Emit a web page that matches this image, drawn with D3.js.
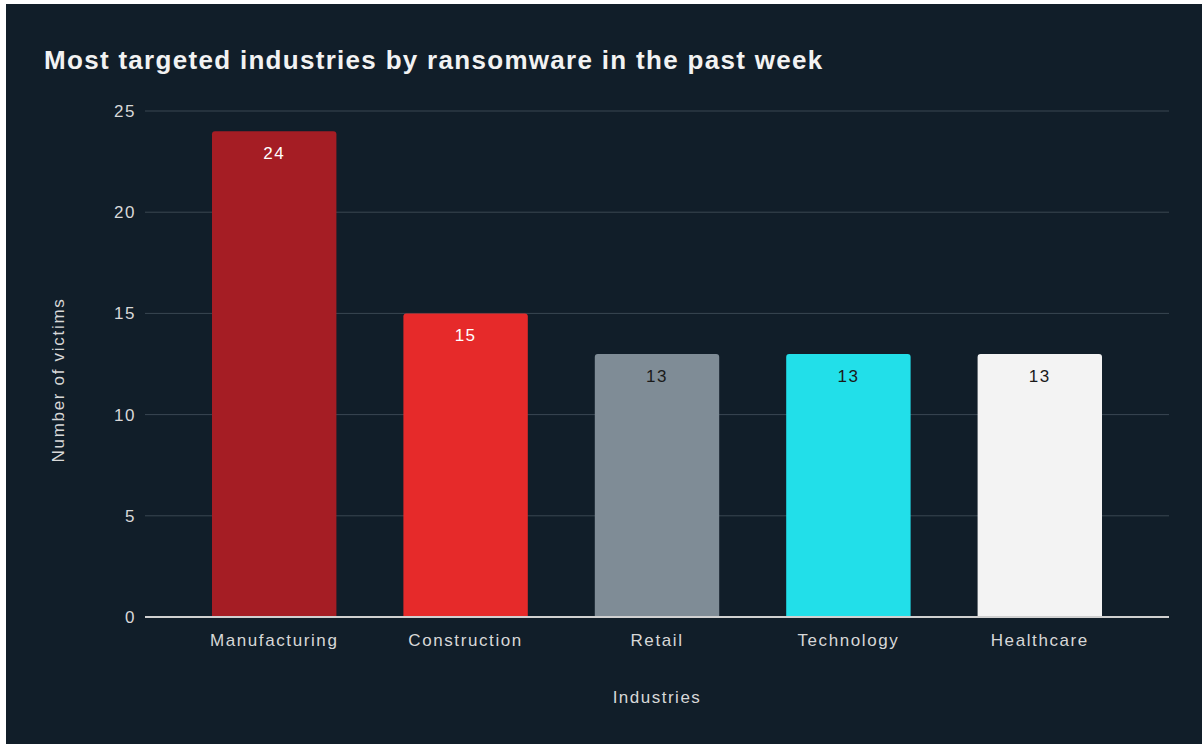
<!DOCTYPE html>
<html>
<head>
<meta charset="utf-8">
<script src="https://cdn.jsdelivr.net/npm/d3@7"></script>
<style>
  body { margin: 0; background: #ffffff; }
  svg text { font-family: "Liberation Sans", Arial, sans-serif; }
</style>
</head>
<body>
<div id="chart"></div>
<script>
var industries = ["Manufacturing", "Construction", "Retail", "Technology", "Healthcare"];
var victims = [24, 15, 13, 13, 13];
var barColors = ["#a51d24", "#e62a2a", "#7f8c96", "#22dfe9", "#f3f3f3"];
var labelColors = ["#ffffff", "#ffffff", "#1a1a1a", "#1a1a1a", "#1a1a1a"];
var yTicks = [0, 5, 10, 15, 20, 25];

var svgWidth = 1202;
var svgHeight = 744;

var svg = d3.select("#chart")
  .append("svg")
  .attr("width", svgWidth)
  .attr("height", svgHeight);

// dark panel (image has a thin white edge top/left)
svg.append("rect")
  .attr("x", 6)
  .attr("y", 4)
  .attr("width", svgWidth - 6)
  .attr("height", svgHeight - 4)
  .attr("fill", "#111e29");

var plotLeft = 145, plotRight = 1169, plotTop = 111, plotBottom = 617;

var x = d3.scaleBand()
  .domain(industries)
  .range([plotLeft, plotRight])
  .padding(0.35);

var y = d3.scaleLinear()
  .domain([0, 25])
  .range([plotBottom, plotTop]);

// gridlines
svg.append("g")
  .selectAll("line")
  .data(yTicks.filter(d => d > 0))
  .enter()
  .append("line")
  .attr("x1", plotLeft)
  .attr("x2", plotRight)
  .attr("y1", d => y(d))
  .attr("y2", d => y(d))
  .attr("stroke", "#3a4752")
  .attr("stroke-width", 1);

// y axis tick labels
var yAxis = svg.append("g")
  .attr("transform", `translate(${plotLeft},0)`)
  .call(d3.axisLeft(y).tickValues(yTicks).tickSize(0).tickPadding(9));
yAxis.select(".domain").remove();
yAxis.selectAll("text")
  .attr("fill", "#d8d8d8")
  .style("font-size", "17px")
  .style("letter-spacing", "1.5px");

// bars
var rows = industries.map((d, i) => ({ name: d, value: victims[i], color: barColors[i], label: labelColors[i] }));

svg.append("g")
  .selectAll("path")
  .data(rows)
  .enter()
  .append("path")
  .attr("d", function (d) {
    var x0 = x(d.name), w = x.bandwidth(), y0 = y(d.value), y1 = y(0), r = 3;
    return `M${x0},${y1} L${x0},${y0 + r} Q${x0},${y0} ${x0 + r},${y0} L${x0 + w - r},${y0} Q${x0 + w},${y0} ${x0 + w},${y0 + r} L${x0 + w},${y1} Z`;
  })
  .attr("fill", d => d.color);

// value labels
svg.append("g")
  .selectAll("text")
  .data(rows)
  .enter()
  .append("text")
  .attr("x", d => x(d.name) + x.bandwidth() / 2)
  .attr("y", d => y(d.value) + 28)
  .attr("text-anchor", "middle")
  .attr("fill", d => d.label)
  .style("font-size", "17px")
  .style("letter-spacing", "1.5px")
  .text(d => d.value);

// baseline
svg.append("line")
  .attr("x1", plotLeft)
  .attr("x2", plotRight)
  .attr("y1", y(0))
  .attr("y2", y(0))
  .attr("stroke", "#d0d0d0")
  .attr("stroke-width", 2);

// x axis labels
var xAxis = svg.append("g")
  .attr("transform", `translate(0,${plotBottom})`)
  .call(d3.axisBottom(x).tickSize(0).tickPadding(17));
xAxis.select(".domain").remove();
xAxis.selectAll("text")
  .attr("fill", "#d8d8d8")
  .style("font-size", "17px")
  .style("letter-spacing", "1.6px");

// title
svg.append("text")
  .attr("x", 44)
  .attr("y", 69)
  .attr("fill", "#f2f2f2")
  .style("font-size", "26px")
  .style("font-weight", "bold")
  .style("letter-spacing", "1.3px")
  .text("Most targeted industries by ransomware in the past week");

// axis titles
svg.append("text")
  .attr("x", 657)
  .attr("y", 703)
  .attr("text-anchor", "middle")
  .attr("fill", "#d8d8d8")
  .style("font-size", "17px")
  .style("letter-spacing", "1.5px")
  .text("Industries");

svg.append("text")
  .attr("transform", "translate(64,380) rotate(-90)")
  .attr("text-anchor", "middle")
  .attr("fill", "#d8d8d8")
  .style("font-size", "17px")
  .style("letter-spacing", "1.7px")
  .text("Number of victims");
</script>
</body>
</html>
